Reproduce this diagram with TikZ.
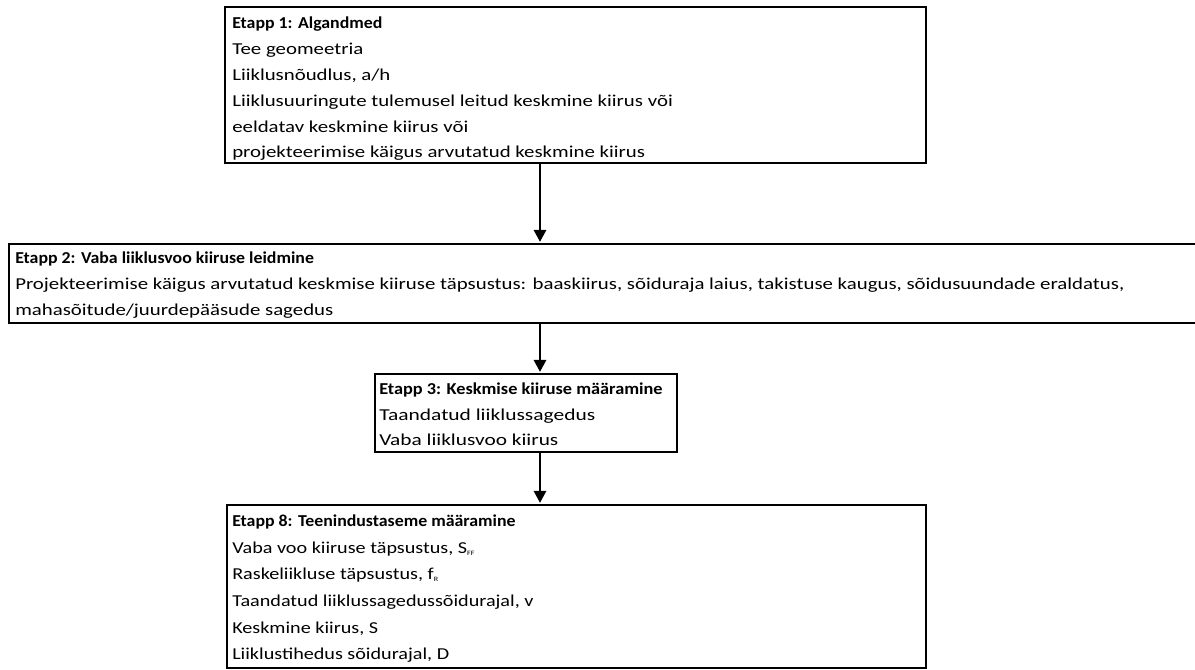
\documentclass[tikz,border=0pt]{standalone}
\usepackage{fontspec}
\usepackage{graphicx}
\setmainfont{Carlito}
\newfontfamily\fAreg[FakeStretch=1.25]{Carlito}
\newfontfamily\fBreg[FakeStretch=1.25]{Carlito}
\newfontfamily\fCreg[FakeStretch=1.28]{Carlito}
\newfontfamily\fDreg[FakeStretch=1.21]{Carlito}
\newfontfamily\fbold[FakeStretch=1.07]{Carlito}
\newcommand\towidth[2]{\resizebox{#1}{\height}{#2}}
\usetikzlibrary{arrows.meta,fit}
\begin{document}
\begin{tikzpicture}[x=0.75pt,y=-0.75pt,
  box/.style={draw=black, line width=2.1pt, inner sep=0pt},
  arr/.style={line width=2.1pt, -{Triangle[length=9pt,width=9pt]}, shorten >=0.5pt},
  txt/.style={anchor=base west, inner sep=0pt},
  tA/.style={txt, font=\fAreg\fontsize{12.5}{15}\selectfont},
  tB/.style={txt, font=\fBreg\fontsize{12.5}{15}\selectfont},
  tC/.style={txt, font=\fCreg\fontsize{12.5}{15}\selectfont},
  tD/.style={txt, font=\fDreg\fontsize{12.5}{15}\selectfont},
  tH/.style={txt, font=\fbold\bfseries\fontsize{12.5}{15}\selectfont}]
\useasboundingbox (0,0) rectangle (1195,670);
\clip (0,0) rectangle (1195,670);
\fill[white] (0,0) rectangle (1195,670);
% boxes
\node[box, fit={(225,7) (926,163)}] (b1) {};
\node[box, fit={(9,244) (1215,323)}] (b2) {};
\node[box, fit={(375,374) (677,452)}] (b3) {};
\node[box, fit={(227,505) (926,668)}] (b4) {};
\coordinate (ax) at (540,0);
% arrows
\draw[arr] (b1.south -| ax) -- (b2.north -| ax);
\draw[arr] (b2.south -| ax) -- (b3.north -| ax);
\draw[arr] (b3.south -| ax) -- (b4.north -| ax);
% box 1 text
\node[tH] (l11) at (232,29) {Etapp 1: Algandmed};
\node[tA] (l12) at (232,55) {Tee geomeetria};
\node[tA] (l13) at (232,81) {Liiklusnõudlus, a/h};
\node[tA] (l14) at (232,107) {Liiklusuuringute tulemusel leitud keskmine kiirus või};
\node[tA] (l15) at (232,133) {eeldatav keskmine kiirus või};
\node[tA] (l16) at (232,158) {projekteerimise käigus arvutatud keskmine kiirus};
% box 2 text
\node[tH] (l21) at (15,263) {Etapp 2: Vaba liiklusvoo kiiruse leidmine};
\node[tB] (l22) at (15,289) {Projekteerimise käigus arvutatud keskmise kiiruse täpsustus: baaskiirus, sõiduraja laius, takistuse kaugus, sõidusuundade eraldatus,};
\node[tB] (l23) at (15,315) {mahasõitude/juurdepääsude sagedus};
% box 3 text
\node[tH] (l31) at (379,394) {\towidth{212.5pt}{Etapp 3: Keskmise kiiruse määramine}};
\node[tC] (l32) at (379,420) {\towidth{162pt}{Taandatud liiklussagedus}};
\node[tC] (l33) at (379,445) {Vaba liiklusvoo kiirus};
% box 4 text
\node[tH] (l41) at (232,526) {Etapp 8: Teenindustaseme määramine};
\node[tD] (l42) at (232,553) {Vaba voo kiiruse täpsustus, S\textsubscript{\tiny FF}};
\node[tD] (l43) at (232,579) {Raskeliikluse täpsustus, f\textsubscript{\tiny R}};
\node[tD] (l44) at (232,606) {Taandatud liiklussagedussõidurajal, v};
\node[tD] (l45) at (232,633) {Keskmine kiirus, S};
\node[tD] (l46) at (232,659) {Liiklustihedus sõidurajal, D};
\end{tikzpicture}
\end{document}
